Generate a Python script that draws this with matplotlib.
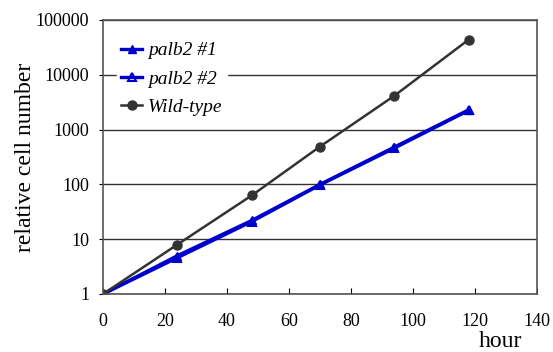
import numpy as np
import matplotlib
matplotlib.use("Agg")
from matplotlib import pyplot as plt

hours = [0, 24, 48, 70, 94, 118]
palb2_1 = [1, 5.0, 22, 100, 480, 2300]
palb2_2 = [1, 4.6, 21, 98, 460, 2250]
wild = [1, 8, 63, 490, 4150, 44000]

plt.rcParams['font.family'] = ['Liberation Serif', 'DejaVu Serif']
plt.rcParams['font.size'] = 13

fig = plt.figure(figsize=(5.53, 3.52), dpi=100)
ax = fig.add_axes([103/553, 58/352, 434/553, 274/352])

ax.plot(hours, palb2_1, '-^', color='#0000cc', lw=2.4, ms=6, label='palb2 #1')
ax.plot(hours, palb2_2, '-^', color='#0000cc', lw=2.4, ms=6, mfc='none', mew=1.5, label='palb2 #2')
ax.plot(hours, wild, '-o', color='#333333', lw=1.8, ms=6.5, label='Wild-type')

ax.set_yscale('log')
ax.set_ylim(1, 100000)
ax.set_xlim(0, 140)
ax.set_xticks(range(0, 141, 20))
ax.set_yticks([1, 10, 100, 1000, 10000, 100000])
ax.set_yticklabels(['1', '10', '100', '1000', '10000', '100000'])
ax.minorticks_off()
ax.tick_params(axis='x', direction='in', length=4, pad=14)
ax.tick_params(axis='y', direction='out', length=3, pad=7)
ax.grid(axis='y', color='#333333', lw=1)
ax.set_axisbelow(True)
for s in ax.spines.values():
    s.set_color('#555555')
    s.set_linewidth(1.2)

ax.set_ylabel('relative cell number', fontsize=17, labelpad=0)
ax.set_xlabel('hour', fontsize=17)
ax.xaxis.set_label_coords(0.915, -0.135)

leg = ax.legend(loc='upper left', bbox_to_anchor=(0.01, 0.97), frameon=True,
                prop={'style': 'italic', 'size': 14}, handlelength=1.1,
                handletextpad=0.3, labelspacing=0.55, borderpad=0.2)
leg.get_frame().set_edgecolor('white')
leg.get_frame().set_alpha(1)

plt.savefig('out.png')
